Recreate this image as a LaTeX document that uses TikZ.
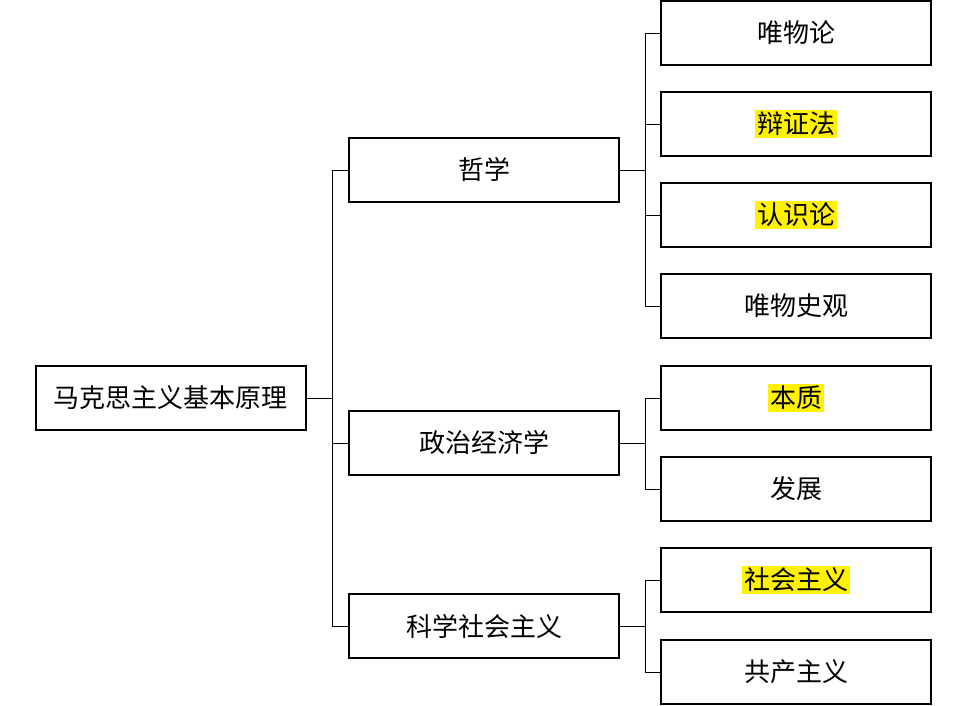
\documentclass[tikz,border=0pt]{standalone}
\usepackage{fontspec}
\setmainfont{Noto Sans CJK SC}
\tikzset{
  box/.style={draw,thick,minimum width=135pt,minimum height=32pt,inner sep=0pt,font=\fontsize{13}{13}\selectfont}
}
\setlength{\fboxsep}{1pt}
\newcommand{\hlt}[1]{\colorbox{yellow}{#1}}
\begin{document}
\begin{tikzpicture}[x=0.5pt,y=-0.5pt]
\useasboundingbox (0,0) rectangle (969,706);
\node[box] (root) at (171,398) {马克思主义基本原理};
\node[box] (phil) at (484,170) {哲学};
\node[box] (econ) at (484,443) {政治经济学};
\node[box] (soc) at (484,626) {科学社会主义};
\node[box] (p1) at (796,33) {唯物论};
\node[box] (p2) at (796,124) {\hlt{辩证法}};
\node[box] (p3) at (796,215) {\hlt{认识论}};
\node[box] (p4) at (796,306) {唯物史观};
\node[box] (e1) at (796,398) {\hlt{本质}};
\node[box] (e2) at (796,489) {发展};
\node[box] (s1) at (796,580) {\hlt{社会主义}};
\node[box] (s2) at (796,672) {共产主义};
% connectors
\foreach \c in {phil,econ,soc}
  \draw (root.east) -- ++(26,0) |- (\c.west);
\foreach \c in {p1,p2,p3,p4}
  \draw (phil.east) -- ++(26,0) |- (\c.west);
\foreach \c in {e1,e2}
  \draw (econ.east) -- ++(26,0) |- (\c.west);
\foreach \c in {s1,s2}
  \draw (soc.east) -- ++(26,0) |- (\c.west);
\end{tikzpicture}
\end{document}
